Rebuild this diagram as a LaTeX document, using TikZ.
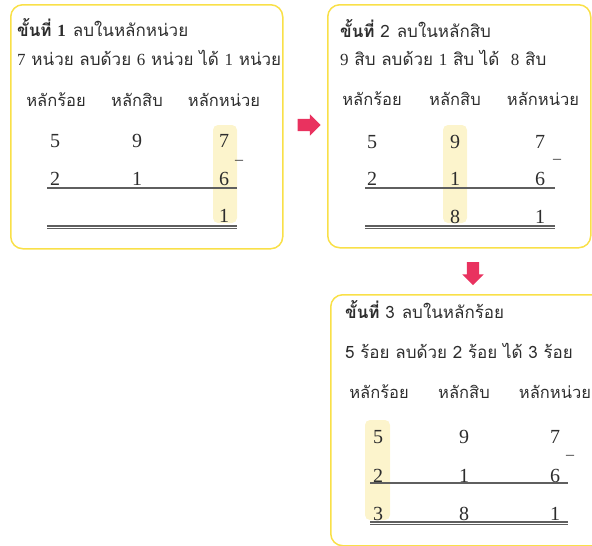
\documentclass[tikz,border=0pt]{standalone}
\usepackage{fontspec}
\newfontfamily\thfont[Script=Thai]{Loma}
\newfontfamily\numfont{Liberation Serif}
\usetikzlibrary{shapes.arrows}
\definecolor{boxyellow}{RGB}{249,224,72}
\definecolor{hl}{RGB}{252,244,204}
\definecolor{arrowred}{RGB}{233,50,95}
\definecolor{rulegray}{RGB}{95,95,95}
\definecolor{ink}{RGB}{45,45,45}
\newcommand{\nm}[1]{{\numfont #1}}
\begin{document}
\begin{tikzpicture}[x=1pt,y=-1pt,
  stepbox/.style={draw=boxyellow, line width=1.5pt, rounded corners=12pt, anchor=north west, inner sep=0pt},
  hlbox/.style={fill=hl, rounded corners=5pt},
  txt/.style={text=ink, inner sep=0pt, anchor=base west, font=\thfont\fontsize{17}{20}\selectfont},
  head/.style={text=ink, inner sep=0pt, anchor=base, font=\thfont\fontsize{16.5}{20}\selectfont},
  digit/.style={text=ink, inner sep=0pt, anchor=base, font=\numfont\fontsize{20}{23}\selectfont},
  minus/.style={text=ink, inner sep=0pt, anchor=center, font=\numfont\fontsize{16}{16}\selectfont},
  rule/.style={draw=rulegray, line width=1.1pt},
  bigarrow/.style={single arrow, fill=arrowred, draw=none, inner sep=0pt, inner ysep=6pt,
     minimum height=23pt, single arrow head extend=4.5pt, single arrow head indent=0pt}
]
\useasboundingbox (0,0) rectangle (592,546);
\clip (0,0) rectangle (592,546);

% ---------- boxes ----------
\node[stepbox, minimum width=272pt, minimum height=244pt] (box1) at (10,4) {};
\node[stepbox, minimum width=263pt, minimum height=243pt] (box2) at (327,4) {};
\node[stepbox, minimum width=290pt, minimum height=251pt] (box3) at (330,294) {};

% ---------- arrows ----------
\node[bigarrow] (arr1) at (306,125) {};
\node[bigarrow, rotate=-90] (arr2) at (473,270.5) {};

% ---------- step 1 ----------
\fill[hlbox] (213,125) rectangle (237,223);
\node[txt] (t1a) at (17,36) {{\bfseries ขั้นที่ {\numfont 1}}\hspace{7pt}ลบในหลักหน่วย};
\node[txt] (t1b) at (17,65) {\nm{7} หน่วย ลบด้วย \nm{6} หน่วย ได้ \nm{1} หน่วย};
\node[head] (h1a) at (56,106) {หลักร้อย};
\node[head] (h1b) at (137,106) {หลักสิบ};
\node[head] (h1c) at (224,106) {หลักหน่วย};
\node[digit] (a1) at (55,147) {5};
\node[digit] (a2) at (137,147) {9};
\node[digit] (a3) at (224,147) {7};
\node[digit] (b1) at (55,185) {2};
\node[digit] (b2) at (137,185) {1};
\node[digit] (b3) at (224,185) {6};
\node[digit] (c3) at (224,222) {1};
\node[minus] (m1) at (239,162) {–};
\draw[rule] (47,188) -- (237,188);
\draw[rule] (47,226) -- (237,226);
\draw[rule] (47,228.6) -- (237,228.6);

% ---------- step 2 ----------
\fill[hlbox] (443,125) rectangle (467,223);
\node[txt] (t2a) at (340,37) {{\bfseries ขั้นที่} 2\hspace{7pt}ลบในหลักสิบ};
\node[txt] (t2b) at (340,65) {\nm{9} สิบ ลบด้วย \nm{1} สิบ ได้\ \ \nm{8} สิบ};
\node[head] (h2a) at (372,105) {หลักร้อย};
\node[head] (h2b) at (455,105) {หลักสิบ};
\node[head] (h2c) at (543,105) {หลักหน่วย};
\node[digit] (d1) at (372,148) {5};
\node[digit] (d2) at (455,148) {9};
\node[digit] (d3) at (540,148) {7};
\node[digit] (e1) at (372,185) {2};
\node[digit] (e2) at (455,185) {1};
\node[digit] (e3) at (540,185) {6};
\node[digit] (f2) at (455,223) {8};
\node[digit] (f3) at (540,223) {1};
\node[minus] (m2) at (557,161) {–};
\draw[rule] (365,188) -- (555,188);
\draw[rule] (365,226) -- (555,226);
\draw[rule] (365,228.6) -- (555,228.6);

% ---------- step 3 ----------
\fill[hlbox] (365,420) rectangle (390,520);
\node[txt] (t3a) at (345,318) {{\bfseries ขั้นที่} 3\hspace{7pt}ลบในหลักร้อย};
\node[txt] (t3b) at (345,358) {5 ร้อย ลบด้วย 2 ร้อย ได้ 3 ร้อย};
\node[head] (h3a) at (379,398) {หลักร้อย};
\node[head] (h3b) at (464,398) {หลักสิบ};
\node[head] (h3c) at (555,398) {หลักหน่วย};
\node[digit] (g1) at (378,443) {5};
\node[digit] (g2) at (464,443) {9};
\node[digit] (g3) at (555,443) {7};
\node[digit] (k1) at (378,482) {2};
\node[digit] (k2) at (464,482) {1};
\node[digit] (k3) at (555,482) {6};
\node[digit] (n1) at (378,520) {3};
\node[digit] (n2) at (464,520) {8};
\node[digit] (n3) at (555,520) {1};
\node[minus] (m3) at (570,457) {–};
\draw[rule] (370,483) -- (568,483);
\draw[rule] (370,522) -- (568,522);
\draw[rule] (370,524.6) -- (568,524.6);
\end{tikzpicture}
\end{document}
